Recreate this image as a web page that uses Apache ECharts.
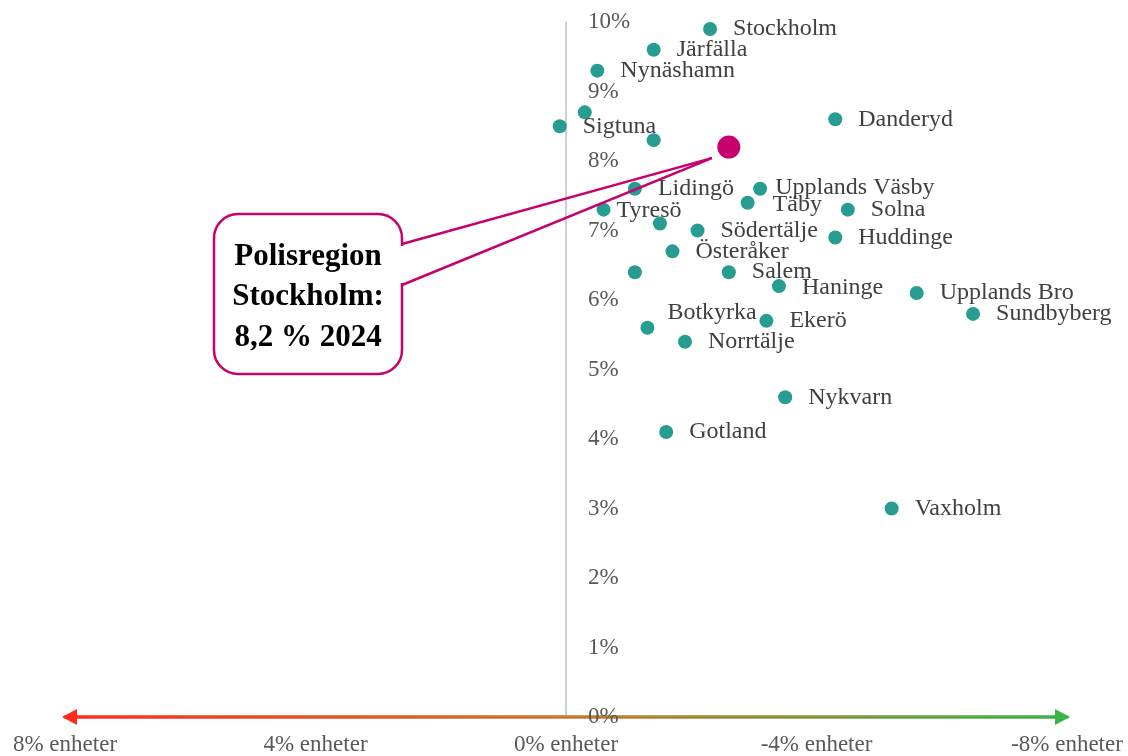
<!DOCTYPE html>
<html><head><meta charset="utf-8">
<script src="https://cdn.jsdelivr.net/npm/echarts@6/dist/echarts.min.js"></script>
<style>html,body{margin:0;padding:0;background:#fff}#c{width:1128px;height:756px}</style>
</head><body><div id="c"></div>
<script>
// Municipality names ('' = unlabeled in original)
const names = ['Stockholm','Järfälla','Nynäshamn','','Sigtuna','','Danderyd','Lidingö','Upplands Väsby','Täby','Tyresö','Solna','','Södertälje','Huddinge','Österåker','','Salem','Haninge','Upplands Bro','Sundbyberg','Ekerö','Botkyrka','Norrtälje','Nykvarn','Gotland','Vaxholm'];
// Change in percentage units (x) and 2024 rate in % (y)
const changeX = [-2.3,-1.4,-0.5,-0.3,0.1,-1.4,-4.3,-1.1,-3.1,-2.9,-0.6,-4.5,-1.5,-2.1,-4.3,-1.7,-1.1,-2.6,-3.4,-5.6,-6.5,-3.2,-1.3,-1.9,-3.5,-1.6,-5.2];
const rateY   = [9.9,9.6,9.3,8.7,8.5,8.3,8.6,7.6,7.6,7.4,7.3,7.3,7.1,7.0,6.9,6.7,6.4,6.4,6.2,6.1,5.8,5.7,5.6,5.4,4.6,4.1,3.0];
// Police region total
const regionX = [-2.6];
const regionY = [8.2];
const regionText = ['Polisregion', 'Stockholm:', '8,2 % 2024'];
// Axis ticks
const xTicks = [-8, -4, 0, 4, 8];
const yTicks = [0,1,2,3,4,5,6,7,8,9,10];

const labelTweaks = {
  'Upplands Väsby': [-8, -1],
  'Tyresö': [-10, 1],
  'Täby': [2, 2],
  'Botkyrka': [-3, -15],
  'Haninge': [0, 2]
};

const serif = '"Liberation Serif","Times New Roman",serif';
const chart = echarts.init(document.getElementById('c'));

const pts = names.map((n, i) => {
  const d = { name: n, value: [changeX[i], rateY[i]] };
  if (labelTweaks[n]) d.label = { offset: labelTweaks[n] };
  return d;
});

const gridLeft = 65;
const option = {
  animation: false,
  backgroundColor: '#fff',
  grid: { left: gridLeft, right: 61, top: 22, bottom: 38, containLabel: false },
  xAxis: {
    type: 'value', min: xTicks[0], max: xTicks[xTicks.length - 1], interval: 4, inverse: true,
    axisLine: { show: true, onZero: false,
      lineStyle: { width: 3.5, color: { type: 'linear', x: 0, y: 0, x2: 1, y2: 0,
        colorStops: [{ offset: 0, color: '#ff2b1c' }, { offset: 0.5, color: '#c8782f' }, { offset: 1, color: '#3bb34b' }] } } },
    axisTick: { show: false }, splitLine: { show: false },
    axisLabel: { formatter: v => v + '% enheter', color: '#595959', fontSize: 23, fontFamily: serif, margin: 16 }
  },
  yAxis: {
    type: 'value', min: yTicks[0], max: yTicks[yTicks.length - 1], interval: 1,
    axisLine: { show: true, onZero: false, lineStyle: { color: '#bfbfbf', width: 1.5 } },
    axisTick: { show: false }, splitLine: { show: false },
    axisLabel: { inside: true, margin: 22, formatter: v => v + '%', color: '#595959', fontSize: 23, fontFamily: serif }
  },
  series: [
    {
      type: 'scatter', data: pts, symbolSize: 14, itemStyle: { color: '#279d91', opacity: 1 }, z: 3,
      label: { show: true, position: 'right', distance: 16, formatter: p => p.name,
        color: '#404040', fontSize: 24, fontFamily: serif }
    },
    {
      type: 'scatter', data: regionX.map((x, i) => [x, regionY[i]]), symbolSize: 23,
      itemStyle: { color: '#c8006e', opacity: 1 }, z: 4, label: { show: false }
    }
  ]
};
chart.setOption(option);

// move the y axis to x = 0
const zeroPx = chart.convertToPixel({ gridIndex: 0 }, [0, 0]);
chart.setOption({ yAxis: { offset: -(zeroPx[0] - gridLeft) } });

const tip0 = chart.convertToPixel({ gridIndex: 0 }, [regionX[0], regionY[0]]);
const tip = [tip0[0] - 17, tip0[1] + 11];
const L = chart.convertToPixel({ gridIndex: 0 }, [xTicks[xTicks.length - 1], 0]);
const R = chart.convertToPixel({ gridIndex: 0 }, [xTicks[0], 0]);
const mag = '#c8006e';
const bx = 214, by = 214, bw = 188, bh = 160;
chart.setOption({
  graphic: [
    { type: 'polygon', z: 10, shape: { points: [[L[0] - 3, L[1]], [L[0] + 12, L[1] - 8], [L[0] + 12, L[1] + 8]] }, style: { fill: '#ff2b1c' } },
    { type: 'polygon', z: 10, shape: { points: [[R[0] + 3, R[1]], [R[0] - 12, R[1] - 8], [R[0] - 12, R[1] + 8]] }, style: { fill: '#3bb34b' } },
    { type: 'rect', z: 20, shape: { x: bx, y: by, width: bw, height: bh, r: 24 }, style: { fill: '#fff', stroke: mag, lineWidth: 2.5 } },
    { type: 'line', z: 21, shape: { x1: bx + bw, y1: 246, x2: bx + bw, y2: 283 }, style: { stroke: '#fff', lineWidth: 4 } },
    { type: 'polyline', z: 22, shape: { points: [[bx + bw, 244], tip, [bx + bw, 285]] }, style: { stroke: mag, lineWidth: 2.5, fill: null } },
    { type: 'text', z: 23, x: bx + bw / 2, y: by + bh / 2 + 3,
      style: { text: regionText.join('\n'), fill: '#000', font: 'bold 31px ' + serif, lineHeight: 40.5, align: 'center', verticalAlign: 'middle' } }
  ]
});
</script></body></html>
